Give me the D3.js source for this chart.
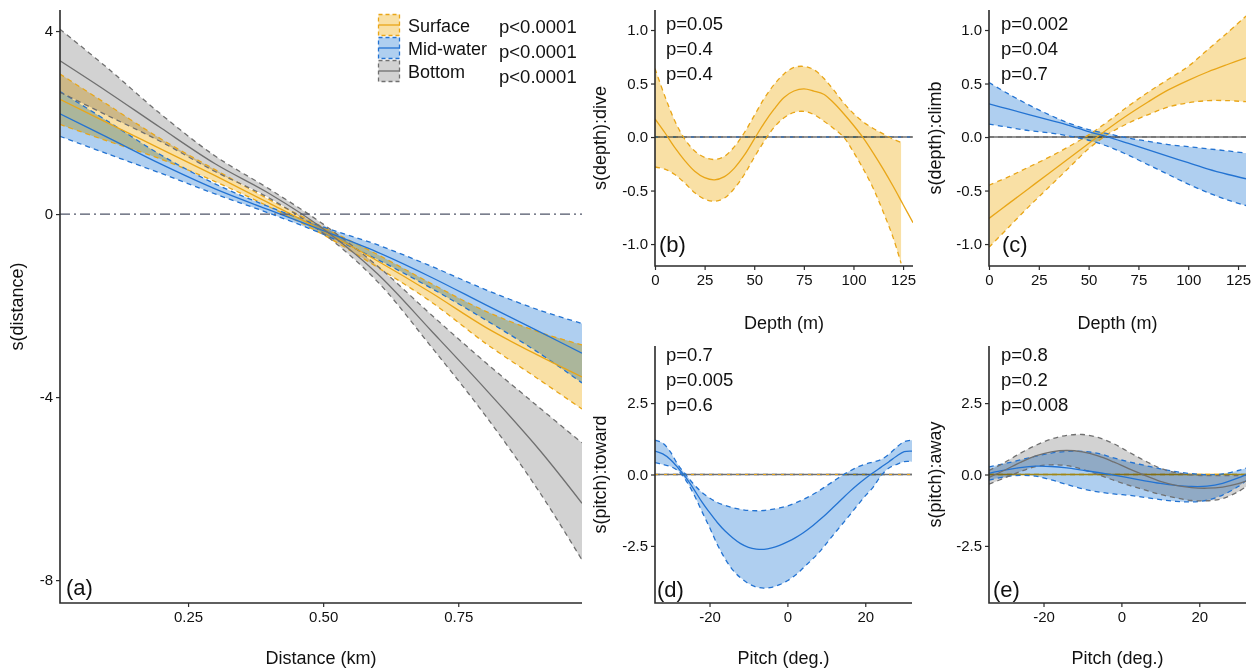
<!DOCTYPE html>
<html>
<head>
<meta charset="utf-8">
<script src="https://cdn.jsdelivr.net/npm/d3@7"></script>
<style>
  body { margin: 0; background: #fff; }
  svg { display: block; font-family: "Liberation Sans", Arial, sans-serif; }
</style>
</head>
<body>
<svg id="chart" width="1257" height="672"></svg>
<script>
// ---- data ----
// (a) s(distance)
const distX = [0.013, 0.1, 0.2, 0.3, 0.4, 0.5, 0.6, 0.7, 0.8, 0.9, 0.979];
const surfaceDistFit   = [2.51, 2.00, 1.42, 0.84, 0.24, -0.37, -1.02, -1.72, -2.47, -3.10, -3.56];
const surfaceDistUpper = [3.06, 2.40, 1.64, 0.97, 0.32, -0.29, -0.88, -1.52, -2.12, -2.58, -2.86];
const surfaceDistLower = [1.96, 1.60, 1.20, 0.71, 0.16, -0.45, -1.16, -1.92, -2.82, -3.62, -4.26];
const midDistFit   = [2.19, 1.68, 1.09, 0.55, 0.09, -0.36, -0.83, -1.38, -1.98, -2.57, -3.04];
const midDistUpper = [2.68, 2.04, 1.29, 0.66, 0.16, -0.28, -0.67, -1.14, -1.65, -2.10, -2.39];
const midDistLower = [1.70, 1.32, 0.89, 0.44, 0.02, -0.44, -0.99, -1.62, -2.31, -3.04, -3.69];
const bottomDistFit   = [3.35, 2.68, 1.88, 1.10, 0.45, -0.32, -1.30, -2.55, -3.82, -5.15, -6.32];
const bottomDistUpper = [4.04, 3.20, 2.18, 1.27, 0.55, -0.22, -1.13, -2.20, -3.24, -4.23, -5.00];
const bottomDistLower = [2.66, 2.16, 1.58, 0.93, 0.35, -0.42, -1.47, -2.90, -4.40, -6.07, -7.56];

// (b) s(depth):dive
const diveDepth = [0, 5, 10, 15, 20, 25, 30, 35, 40, 45, 50, 55, 60, 65, 70, 75, 80, 85, 90, 95, 100, 105, 110, 115, 120, 125, 130];
const surfaceDiveFit = [0.17, 0.04, -0.10, -0.22, -0.32, -0.38, -0.40, -0.37, -0.29, -0.17, -0.02, 0.13, 0.26, 0.37, 0.43, 0.45, 0.43, 0.40, 0.32, 0.22, 0.11, -0.01, -0.15, -0.30, -0.46, -0.63, -0.80];
const diveBandDepth = [0, 5, 10, 15, 20, 25, 30, 35, 40, 45, 50, 55, 60, 65, 70, 75, 80, 85, 90, 95, 100, 105, 110, 115, 120, 124];
const surfaceDiveUpper = [0.64, 0.38, 0.15, -0.02, -0.13, -0.19, -0.21, -0.18, -0.09, 0.04, 0.20, 0.36, 0.49, 0.59, 0.65, 0.66, 0.63, 0.55, 0.44, 0.32, 0.22, 0.14, 0.08, 0.03, -0.02, -0.05];
const surfaceDiveLower = [-0.28, -0.30, -0.35, -0.43, -0.52, -0.58, -0.60, -0.57, -0.48, -0.35, -0.19, -0.04, 0.09, 0.18, 0.23, 0.24, 0.21, 0.15, 0.08, 0.00, -0.14, -0.30, -0.48, -0.70, -0.94, -1.18];

// (c) s(depth):climb
const climbDepth = [0, 10, 20, 30, 40, 50, 60, 70, 80, 90, 100, 110, 120, 129];
const surfaceClimbFit   = [-0.76, -0.62, -0.48, -0.34, -0.20, -0.06, 0.08, 0.21, 0.33, 0.44, 0.53, 0.61, 0.68, 0.74];
const surfaceClimbUpper = [-0.45, -0.37, -0.28, -0.19, -0.09, 0.02, 0.15, 0.29, 0.42, 0.54, 0.66, 0.82, 0.98, 1.13];
const surfaceClimbLower = [-1.03, -0.84, -0.65, -0.47, -0.29, -0.11, 0.03, 0.13, 0.21, 0.28, 0.32, 0.34, 0.34, 0.33];
const midClimbFit   = [0.31, 0.26, 0.21, 0.16, 0.11, 0.05, 0.00, -0.06, -0.12, -0.18, -0.24, -0.30, -0.35, -0.39];
const midClimbUpper = [0.51, 0.40, 0.30, 0.21, 0.13, 0.07, 0.03, -0.01, -0.04, -0.07, -0.09, -0.11, -0.13, -0.15];
const midClimbLower = [0.12, 0.09, 0.06, 0.04, 0.01, -0.03, -0.09, -0.17, -0.26, -0.35, -0.44, -0.52, -0.59, -0.64];

// (d) s(pitch):toward
const towardPitch = [-34, -32, -30, -28, -26, -24, -22, -20, -18, -16, -14, -12, -10, -8, -6, -4, -2, 0, 2, 4, 6, 8, 10, 12, 14, 16, 18, 20, 22, 24, 26, 28, 30, 32];
const midTowardFit   = [0.82, 0.72, 0.52, 0.22, -0.12, -0.52, -0.95, -1.33, -1.68, -1.98, -2.22, -2.42, -2.55, -2.61, -2.62, -2.57, -2.48, -2.36, -2.22, -2.05, -1.85, -1.62, -1.38, -1.12, -0.86, -0.60, -0.36, -0.14, 0.06, 0.25, 0.44, 0.64, 0.80, 0.82];
const midTowardUpper = [1.20, 1.10, 0.78, 0.32, -0.02, -0.35, -0.62, -0.82, -0.98, -1.08, -1.16, -1.22, -1.26, -1.27, -1.26, -1.22, -1.17, -1.10, -1.00, -0.88, -0.74, -0.58, -0.40, -0.22, -0.04, 0.12, 0.26, 0.36, 0.44, 0.52, 0.70, 0.95, 1.15, 1.20];
const midTowardLower = [0.42, 0.35, 0.28, 0.12, -0.22, -0.70, -1.28, -1.85, -2.45, -2.95, -3.35, -3.62, -3.82, -3.94, -3.98, -3.95, -3.86, -3.72, -3.53, -3.28, -3.02, -2.75, -2.42, -2.08, -1.75, -1.42, -1.08, -0.75, -0.45, -0.05, 0.22, 0.35, 0.45, 0.45];

// (e) s(pitch):away
const awayPitch = [-34, -30, -26, -22, -18, -14, -10, -6, -2, 2, 6, 10, 14, 18, 22, 26, 30, 32];
const midAwayFit   = [0.04, 0.15, 0.24, 0.29, 0.28, 0.23, 0.15, 0.07, -0.02, -0.12, -0.22, -0.31, -0.38, -0.42, -0.41, -0.31, -0.12, 0.00];
const midAwayUpper = [0.27, 0.38, 0.51, 0.64, 0.75, 0.81, 0.81, 0.74, 0.58, 0.44, 0.32, 0.20, 0.10, 0.03, -0.01, 0.02, 0.14, 0.22];
const midAwayLower = [-0.20, -0.08, -0.03, -0.06, -0.19, -0.35, -0.50, -0.61, -0.68, -0.73, -0.80, -0.88, -0.94, -0.96, -0.90, -0.72, -0.42, -0.22];
const bottomAwayFit   = [-0.10, 0.15, 0.42, 0.65, 0.79, 0.84, 0.79, 0.65, 0.44, 0.20, -0.03, -0.24, -0.38, -0.46, -0.48, -0.44, -0.32, -0.23];
const bottomAwayUpper = [0.14, 0.42, 0.74, 1.02, 1.24, 1.37, 1.40, 1.30, 1.08, 0.78, 0.48, 0.22, 0.06, -0.01, -0.04, -0.04, -0.04, -0.03];
const bottomAwayLower = [-0.34, -0.12, 0.10, 0.28, 0.34, 0.31, 0.18, 0.00, -0.20, -0.38, -0.54, -0.70, -0.82, -0.91, -0.92, -0.84, -0.60, -0.43];

const groups = ["Surface", "Mid-water", "Bottom"];
const distPValues = ["p<0.0001", "p<0.0001", "p<0.0001"];
const diveP = ["p=0.05", "p=0.4", "p=0.4"];
const climbP = ["p=0.002", "p=0.04", "p=0.7"];
const towardP = ["p=0.7", "p=0.005", "p=0.6"];
const awayP = ["p=0.8", "p=0.2", "p=0.008"];

const distTicks = [0.25, 0.5, 0.75];
const distYTicks = [4, 0, -4, -8];
const depthTicks = [0, 25, 50, 75, 100, 125];
const depthYTicks = [1, 0.5, 0, -0.5, -1];
const pitchTicks = [-20, 0, 20];
const pitchYTicks = [2.5, 0, -2.5];

// ---- style ----
// ribbons are opaque tints blended with "multiply" so overlaps darken like the original
const pal = {
  "Surface":   { line: "#E9A618", fill: "#F9E0A5" },
  "Mid-water": { line: "#2373D2", fill: "#AFCFF0" },
  "Bottom":    { line: "#707070", fill: "#D2D2D2" }
};
const axisColor = "#2b2b2b";
const textColor = "#111";

const svg = d3.select("#chart");
const zip = (xs, ys) => xs.map((v, i) => [v, ys[i]]);
const hyphen = f => d => f(d).replace("\u2212", "-");

function drawPanel(p) {
  const x = d3.scaleLinear().domain(p.xDomain).range([p.left, p.right]);
  const y = d3.scaleLinear().domain(p.yDomain).range([p.bottom, p.top]);

  svg.append("clipPath").attr("id", "clip-" + p.id)
    .append("rect")
    .attr("x", p.left).attr("y", p.top)
    .attr("width", p.right - p.left).attr("height", p.bottom - p.top);
  const plot = svg.append("g").attr("clip-path", `url(#clip-${p.id})`);

  const curve = d3.curveCatmullRom.alpha(0.5);
  const line = d3.line().x(d => x(d[0])).y(d => y(d[1])).curve(curve);
  const area = d3.area().x(d => x(d[0])).y0(d => y(d[1])).y1(d => y(d[2])).curve(curve);

  // flat (null) smooths sitting on zero
  if (p.flatBase) {
    plot.append("line")
      .attr("x1", p.left).attr("x2", p.right).attr("y1", y(0)).attr("y2", y(0))
      .attr("stroke", pal[p.flatBase].line).attr("stroke-width", 1.6);
    plot.append("line")
      .attr("x1", p.left).attr("x2", p.right).attr("y1", y(0)).attr("y2", y(0))
      .attr("stroke", pal[p.flatBase].line).attr("stroke-width", 1.6)
      .attr("stroke-dasharray", "5,4");
  }
  if (p.flatAccent) {
    plot.append("line")
      .attr("x1", p.left).attr("x2", p.right).attr("y1", y(0)).attr("y2", y(0))
      .attr("stroke", pal[p.flatAccent].line).attr("stroke-width", 1.1)
      .attr("stroke-dasharray", "3,6");
  }

  // ribbons
  p.series.forEach(s => {
    const bx = s.bandX || s.x;
    const band = bx.map((v, i) => [v, s.lower[i], s.upper[i]]);
    plot.append("path").attr("d", area(band))
      .attr("fill", pal[s.name].fill).style("mix-blend-mode", "multiply");
  });
  // dashed limits
  p.series.forEach(s => {
    const bx = s.bandX || s.x;
    [s.upper, s.lower].forEach(lim => {
      plot.append("path").attr("d", line(zip(bx, lim)))
        .attr("fill", "none").attr("stroke", pal[s.name].line)
        .attr("stroke-width", 1.3).attr("stroke-dasharray", "5,4");
    });
  });
  // fitted lines
  p.series.forEach(s => {
    plot.append("path").attr("d", line(zip(s.x, s.fit)))
      .attr("fill", "none").attr("stroke", pal[s.name].line).attr("stroke-width", 1.3);
  });

  if (p.refLine) {
    plot.append("line")
      .attr("x1", p.left).attr("x2", p.right)
      .attr("y1", y(0)).attr("y2", y(0))
      .attr("stroke", "#4f5568").attr("stroke-width", 1.3)
      .attr("stroke-dasharray", "10,4,2,4");
  }

  // axes
  const xAxis = svg.append("g").attr("transform", `translate(0,${p.bottom})`)
    .call(d3.axisBottom(x).tickValues(p.xTicks).tickFormat(hyphen(p.xFmt)).tickSize(4).tickPadding(4).tickSizeOuter(0));
  const yAxis = svg.append("g").attr("transform", `translate(${p.left},0)`)
    .call(d3.axisLeft(y).tickValues(p.yTicks).tickFormat(hyphen(p.yFmt)).tickSize(4).tickPadding(3).tickSizeOuter(0));
  [xAxis, yAxis].forEach(a => {
    a.select(".domain").remove();
    a.selectAll("line").attr("stroke", axisColor).attr("stroke-width", 1.2);
    a.selectAll("text").attr("font-size", 15).attr("fill", textColor)
      .attr("font-family", "'Liberation Sans', Arial, sans-serif");
  });
  svg.append("path")
    .attr("d", `M${p.left},${p.top}V${p.bottom}H${p.right}`)
    .attr("fill", "none").attr("stroke", axisColor).attr("stroke-width", 1.6);

  // titles
  svg.append("text").attr("x", (p.left + p.right) / 2).attr("y", p.xTitleY)
    .attr("text-anchor", "middle").attr("font-size", 18).attr("fill", textColor)
    .text(p.xTitle);
  svg.append("text")
    .attr("transform", `translate(${p.yTitleX},${(p.top + p.bottom) / 2}) rotate(-90)`)
    .attr("text-anchor", "middle").attr("dominant-baseline", "central")
    .attr("font-size", 18).attr("fill", textColor)
    .text(p.yTitle);

  svg.append("text").attr("x", p.labelX).attr("y", p.labelY)
    .attr("font-size", 22).attr("fill", textColor).text(p.label);

  if (p.pvals) {
    svg.append("g").selectAll("text").data(p.pvals).join("text")
      .attr("x", p.pX).attr("y", (d, i) => p.pY + i * 25)
      .attr("font-size", 18.5).attr("fill", textColor)
      .text(d => d);
  }
  return { x, y };
}

const f1 = d3.format(".1f");
const f2 = d3.format(".2f");
const fd = d3.format("d");

// (a)
drawPanel({
  id: "a", left: 60, right: 582, top: 10, bottom: 603,
  xDomain: [0.013, 0.979], yDomain: [-8.5, 4.46],
  xTicks: distTicks, xFmt: f2, yTicks: distYTicks, yFmt: fd,
  xTitle: "Distance (km)", xTitleY: 664, yTitle: "s(distance)", yTitleX: 17,
  label: "(a)", labelX: 66, labelY: 595, refLine: true,
  series: [
    { name: "Surface", x: distX, fit: surfaceDistFit, upper: surfaceDistUpper, lower: surfaceDistLower },
    { name: "Mid-water", x: distX, fit: midDistFit, upper: midDistUpper, lower: midDistLower },
    { name: "Bottom", x: distX, fit: bottomDistFit, upper: bottomDistUpper, lower: bottomDistLower }
  ]
});

// legend for (a)
const legend = svg.append("g");
groups.forEach((name, i) => {
  const ky = 14 + i * 23;
  legend.append("rect").attr("x", 378.5).attr("y", ky + 0.5).attr("width", 21).attr("height", 21)
    .attr("fill", pal[name].fill)
    .attr("stroke", pal[name].line).attr("stroke-width", 1.3).attr("stroke-dasharray", "4,3");
  legend.append("line").attr("x1", 379).attr("x2", 400).attr("y1", ky + 11).attr("y2", ky + 11)
    .attr("stroke", pal[name].line).attr("stroke-width", 1.3);
  legend.append("text").attr("x", 408).attr("y", ky + 18)
    .attr("font-size", 18).attr("fill", textColor).text(name);
  legend.append("text").attr("x", 499).attr("y", 33 + i * 25)
    .attr("font-size", 18.5).attr("fill", textColor).text(distPValues[i]);
});

// (b)
drawPanel({
  id: "b", left: 655, right: 913, top: 10, bottom: 266,
  xDomain: [0, 130], yDomain: [-1.205, 1.187],
  xTicks: depthTicks, xFmt: fd, yTicks: depthYTicks, yFmt: f1,
  xTitle: "Depth (m)", xTitleY: 329, yTitle: "s(depth):dive", yTitleX: 600,
  label: "(b)", labelX: 659, labelY: 252, pvals: diveP, pX: 666, pY: 30,
  flatBase: "Bottom", flatAccent: "Mid-water",
  series: [
    { name: "Surface", x: diveDepth, fit: surfaceDiveFit, bandX: diveBandDepth, upper: surfaceDiveUpper, lower: surfaceDiveLower }
  ]
});

// (c)
drawPanel({
  id: "c", left: 989, right: 1246, top: 10, bottom: 266,
  xDomain: [0, 129], yDomain: [-1.205, 1.187],
  xTicks: depthTicks, xFmt: fd, yTicks: depthYTicks, yFmt: f1,
  xTitle: "Depth (m)", xTitleY: 329, yTitle: "s(depth):climb", yTitleX: 935,
  label: "(c)", labelX: 1002, labelY: 252, pvals: climbP, pX: 1001, pY: 30,
  flatBase: "Bottom",
  series: [
    { name: "Surface", x: climbDepth, fit: surfaceClimbFit, upper: surfaceClimbUpper, lower: surfaceClimbLower },
    { name: "Mid-water", x: climbDepth, fit: midClimbFit, upper: midClimbUpper, lower: midClimbLower }
  ]
});

// (d)
drawPanel({
  id: "d", left: 655, right: 912, top: 346, bottom: 603,
  xDomain: [-34, 32], yDomain: [-4.5, 4.5],
  xTicks: pitchTicks, xFmt: fd, yTicks: pitchYTicks, yFmt: f1,
  xTitle: "Pitch (deg.)", xTitleY: 664, yTitle: "s(pitch):toward", yTitleX: 600,
  label: "(d)", labelX: 657, labelY: 597, pvals: towardP, pX: 666, pY: 361,
  flatBase: "Bottom", flatAccent: "Surface",
  series: [
    { name: "Mid-water", x: towardPitch, fit: midTowardFit, upper: midTowardUpper, lower: midTowardLower }
  ]
});

// (e)
drawPanel({
  id: "e", left: 989, right: 1246, top: 346, bottom: 603,
  xDomain: [-34, 32], yDomain: [-4.5, 4.5],
  xTicks: pitchTicks, xFmt: fd, yTicks: pitchYTicks, yFmt: f1,
  xTitle: "Pitch (deg.)", xTitleY: 664, yTitle: "s(pitch):away", yTitleX: 935,
  label: "(e)", labelX: 993, labelY: 597, pvals: awayP, pX: 1001, pY: 361,
  flatBase: "Surface",
  series: [
    { name: "Mid-water", x: awayPitch, fit: midAwayFit, upper: midAwayUpper, lower: midAwayLower },
    { name: "Bottom", x: awayPitch, fit: bottomAwayFit, upper: bottomAwayUpper, lower: bottomAwayLower }
  ]
});
</script>
</body>
</html>
